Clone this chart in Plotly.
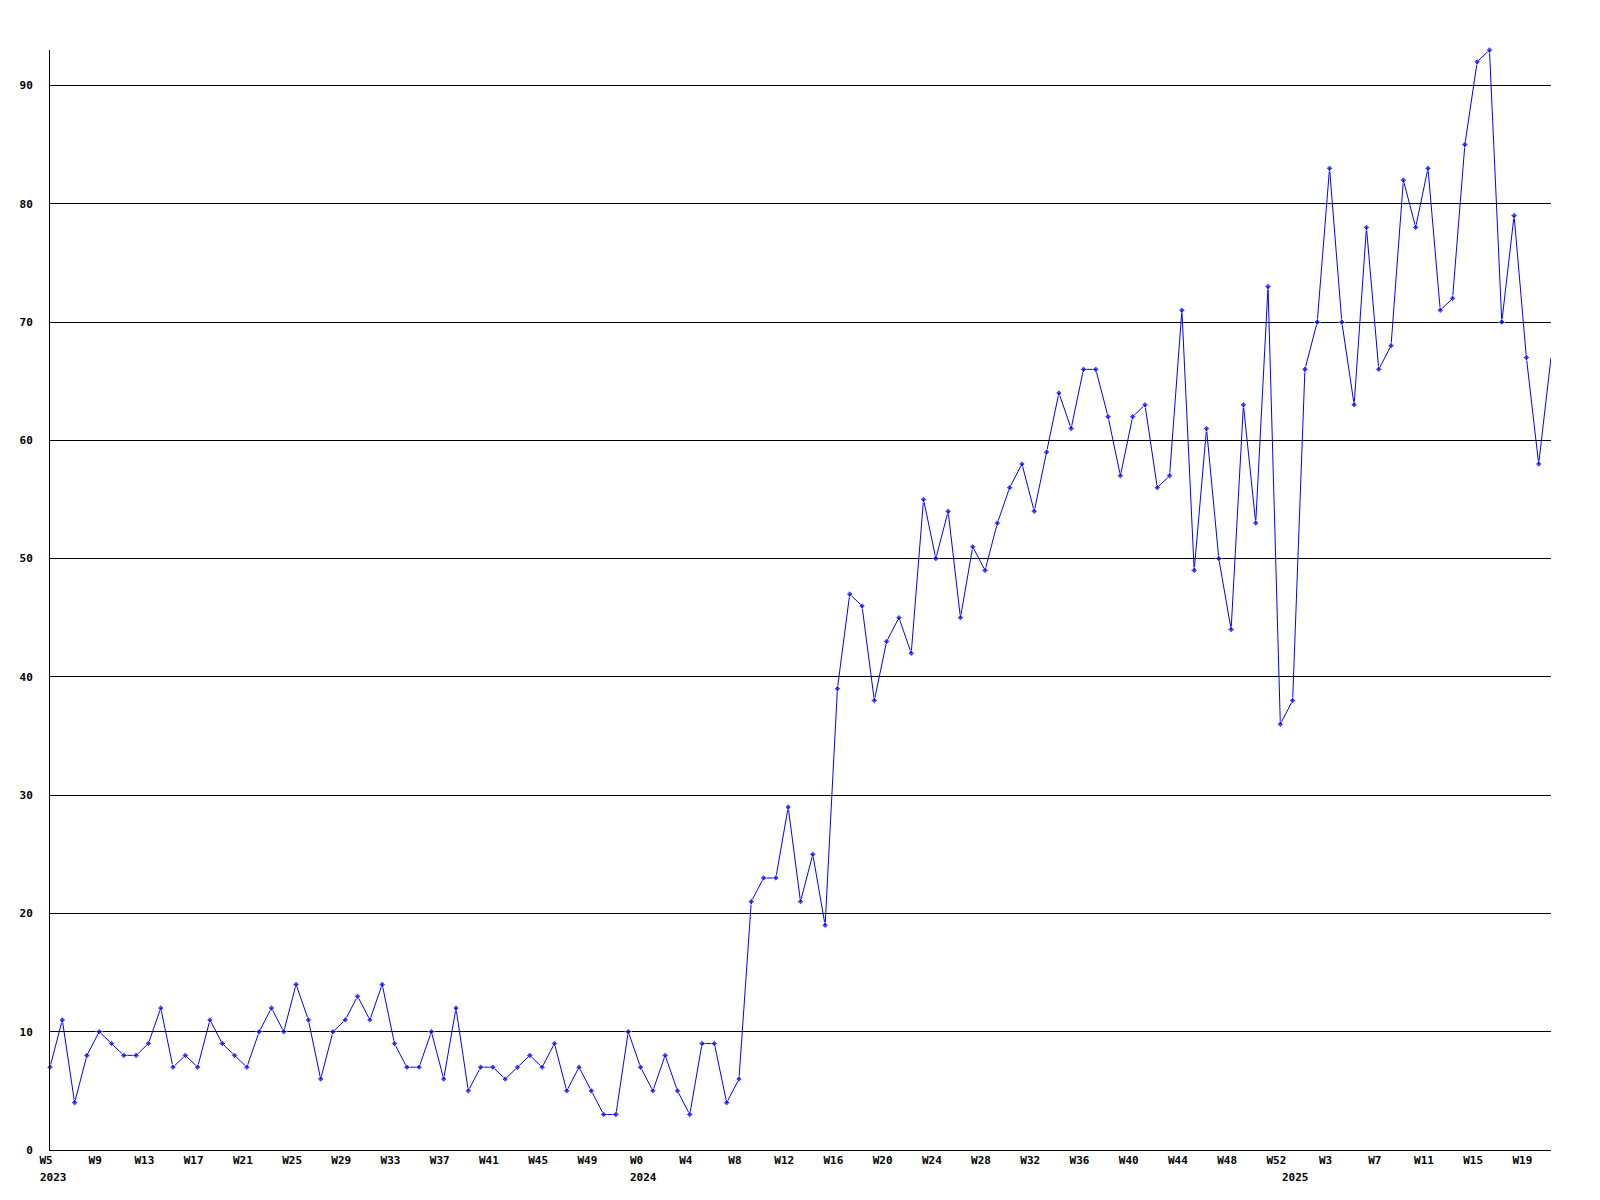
import plotly.graph_objects as go

# Weekly values, 2023 W5 .. 2025 W21
values = [
    7, 11, 4, 8, 10, 9, 8, 8, 9, 12, 7, 8, 7, 11, 9, 8, 7, 10, 12, 10,
    14, 11, 6, 10, 11, 13, 11, 14, 9, 7, 7, 10, 6, 12, 5, 7, 7, 6, 7, 8,
    7, 9, 5, 7, 5, 3, 3, 10, 7, 5, 8, 5, 3, 9, 9, 4, 6, 21, 23, 23,
    29, 21, 25, 19, 39, 47, 46, 38, 43, 45, 42, 55, 50, 54, 45, 51, 49, 53, 56, 58,
    54, 59, 64, 61, 66, 66, 62, 57, 62, 63, 56, 57, 71, 49, 61, 50, 44, 63, 53, 73,
    36, 38, 66, 70, 83, 70, 63, 78, 66, 68, 82, 78, 83, 71, 72, 85, 92, 93, 70, 79,
    67, 58, 67,
]

x_tick_labels = [
    "W5", "W9", "W13", "W17", "W21", "W25", "W29", "W33", "W37", "W41", "W45", "W49",
    "W0", "W4", "W8", "W12", "W16", "W20", "W24", "W28", "W32", "W36", "W40", "W44",
    "W48", "W52", "W3", "W7", "W11", "W15", "W19",
]
tick_step = 4

year_labels = ["2023", "2024", "2025"]
year_start_index = [0, 48, 101]

y_tick_values = [0, 10, 20, 30, 40, 50, 60, 70, 80, 90]

x = list(range(len(values)))
tickvals = [i * tick_step for i in range(len(x_tick_labels))]

font = dict(family="DejaVu Sans Mono", size=11, color="black", weight="bold")

fig = go.Figure()
fig.add_trace(go.Scatter(
    x=x, y=values, mode="lines+markers",
    line=dict(color="#0000FF", width=1),
    marker=dict(symbol="diamond", size=[5] * (len(values) - 1) + [0], color="#0000FF"),
    cliponaxis=False,
    showlegend=False,
))

annotations = []
for lbl, idx in zip(year_labels, year_start_index):
    annotations.append(dict(
        x=idx, xref="x", y=0, yref="paper", text=lbl, showarrow=False,
        xanchor="center", yanchor="middle", yshift=-27, xshift=3, font=font,
    ))

fig.update_layout(
    width=1600, height=1200,
    margin=dict(l=42, r=57, t=42, b=58),
    paper_bgcolor="white", plot_bgcolor="white",
    annotations=annotations,
    xaxis=dict(
        range=[0, len(values) - 1], tickvals=tickvals, ticktext=x_tick_labels,
        showgrid=False, zeroline=False, showline=True, linecolor="black", linewidth=1,
        ticks="", tickfont=font, tickangle=0, ticklabelshift=-4,
    ),
    yaxis=dict(
        range=[0, 93], tickvals=y_tick_values,
        showgrid=True, gridcolor="black", gridwidth=1, zeroline=False,
        showline=True, linecolor="black", linewidth=1,
        ticks="", tickfont=font, ticklabelstandoff=14,
    ),
)

fig.write_html("out.html")
